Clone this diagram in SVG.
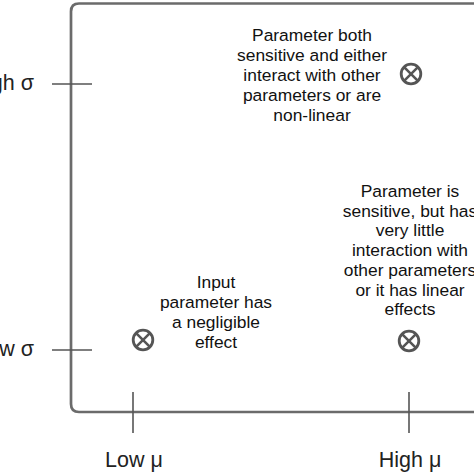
<svg xmlns="http://www.w3.org/2000/svg" width="474" height="474" viewBox="0 0 474 474">
<style>
.ax{fill:none;stroke:#6b6b6b;stroke-width:2.7}
.tk{stroke:#555;stroke-width:1.6}
.lb{font-family:"Liberation Sans",Arial,sans-serif;font-size:21.5px;fill:#222}
.tx{font-family:"Liberation Sans",Arial,sans-serif;font-size:17.4px;fill:#111;text-anchor:middle}
.oc{fill:none;stroke:#555;stroke-width:2.8}
.ol{stroke:#555;stroke-width:2.6}
</style>
<defs>
<g id="ox"><circle class="oc" r="9.8"/><path class="ol" d="M-6.9,-6.9L6.9,6.9M6.9,-6.9L-6.9,6.9"/></g>
</defs>
<g id="connectors">
<path class="ax" d="M490,3.5 H79 Q71,3.5 71,11.5 V404 Q71,412 79,412 H490"/>
<line class="tk" x1="52" y1="84" x2="92" y2="84"/>
<line class="tk" x1="52" y1="350" x2="92" y2="350"/>
<line class="tk" x1="133" y1="392" x2="133" y2="433"/>
<line class="tk" x1="409" y1="392" x2="409" y2="433"/>
</g>
<g id="axis-labels">
<text class="lb" x="34" y="90" text-anchor="end">High σ</text>
<text class="lb" x="34" y="356" text-anchor="end">Low σ</text>
<text class="lb" x="134" y="467" text-anchor="middle">Low μ</text>
<text class="lb" x="410" y="467" text-anchor="middle">High μ</text>
</g>
<g id="node-high-sigma">
<use href="#ox" x="411" y="74"/>
<text class="tx"><tspan x="312" y="41">Parameter both</tspan><tspan x="312" y="61">sensitive and either</tspan><tspan x="312" y="81">interact with other</tspan><tspan x="312" y="101">parameters or are</tspan><tspan x="312" y="121">non-linear</tspan></text>
</g>
<g id="node-low-mu">
<use href="#ox" x="143" y="340"/>
<text class="tx"><tspan x="216" y="288">Input</tspan><tspan x="216" y="308">parameter has</tspan><tspan x="216" y="328">a negligible</tspan><tspan x="216" y="348">effect</tspan></text>
</g>
<g id="node-high-mu">
<use href="#ox" x="409" y="341"/>
<text class="tx"><tspan x="410" y="197">Parameter is</tspan><tspan x="410" y="216.7">sensitive, but has</tspan><tspan x="410" y="236.4">very little</tspan><tspan x="410" y="256.1">interaction with</tspan><tspan x="410" y="275.8">other parameters</tspan><tspan x="410" y="295.5">or it has linear</tspan><tspan x="410" y="315.2">effects</tspan></text>
</g>
</svg>
